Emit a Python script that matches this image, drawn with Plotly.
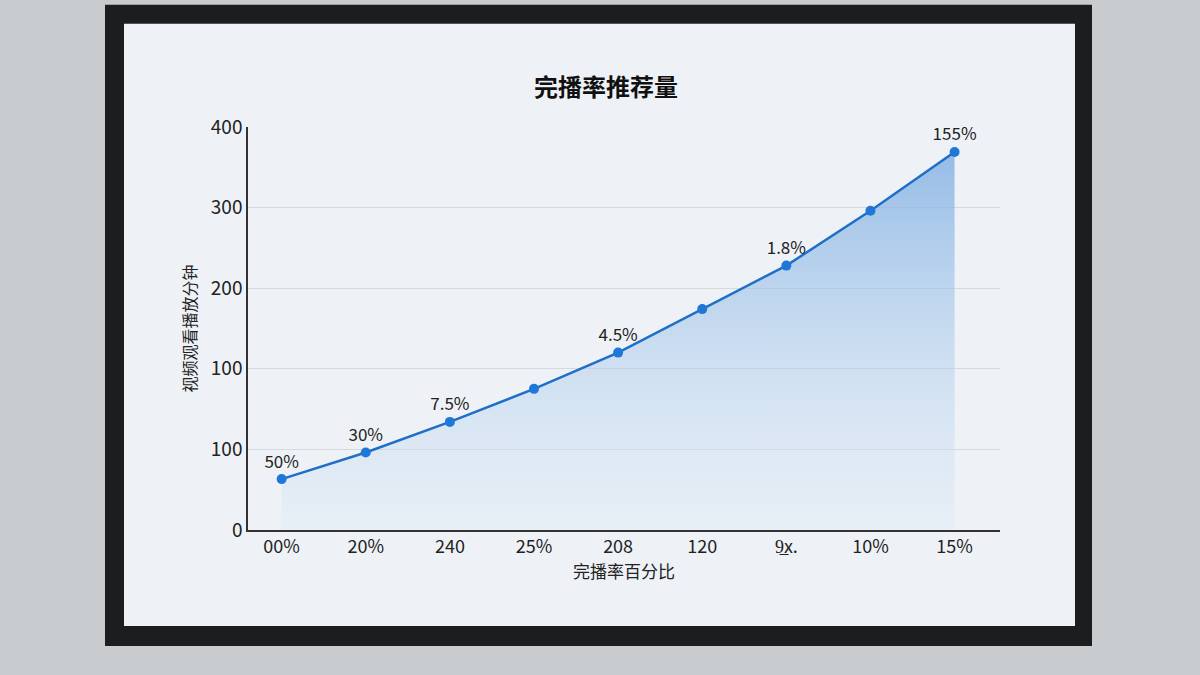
import plotly.graph_objects as go

x_labels = ["00%", "20%", "240", "25%", "208", "120", "9\u0332x.", "10%", "15%"]
values = [63, 96, 134, 175, 220, 274, 328, 396, 469]
point_labels = ["50%", "30%", "7.5%", "", "4.5%", "", "1.8%", "", "155%"]
y_tickvals = [0, 100, 200, 300, 400, 500]
y_ticktext = ["0", "100", "100", "200", "300", "400"]

font = "Noto Sans CJK SC"


def py(s):
    # screen pixel row -> paper fraction (the page is squeezed vertically when shot)
    return 1 - ((s - 20) / 0.958 + 5) / 675


fig = go.Figure()
fig.add_trace(go.Scatter(
    x=x_labels, y=values, mode="lines+markers+text",
    text=point_labels, textposition="top center",
    textfont=dict(size=17, color="#222", family=font),
    line=dict(color="#1f6fc8", width=2.5),
    marker=dict(size=10, color="#1f78d8"),
    fill="tozeroy",
    fillgradient=dict(type="vertical",
                      colorscale=[[0, "rgba(215,230,245,0.3)"], [1, "rgba(120,170,225,0.75)"]]),
    cliponaxis=False,
))

fig.update_layout(
    width=1200, height=675,
    margin=dict(l=0, r=0, t=0, b=0),
    paper_bgcolor="#c9ccce",
    plot_bgcolor="rgba(0,0,0,0)",
    showlegend=False,
    font=dict(family=font, color="#222"),
    shapes=[
        dict(type="rect", xref="paper", yref="paper", x0=105/1200, x1=1092/1200,
             y0=py(645), y1=py(5), fillcolor="#1b1d1f", line=dict(width=0), layer="below"),
        dict(type="rect", xref="paper", yref="paper", x0=124/1200, x1=1075/1200,
             y0=py(625), y1=py(24), fillcolor="#eef2f6", line=dict(width=0), layer="below"),
    ],
    annotations=[
        dict(text="<b>完播率推荐量</b>", xref="paper", yref="paper", x=606/1200, y=py(66),
             showarrow=False, font=dict(size=24, family=font, color="#111")),
    ],
    xaxis=dict(domain=[248/1200, 1000/1200], range=[-0.4, 8.54], showline=True,
               linecolor="#333", linewidth=1.5, showgrid=False, ticks="",
               tickfont=dict(size=18, family=font, color="#222"),
               title=dict(text="完播率百分比", font=dict(size=17), standoff=8)),
    yaxis=dict(domain=[py(529), py(127)], range=[0, 500], tickvals=y_tickvals,
               ticktext=y_ticktext, showline=True, linecolor="#333", linewidth=1.5,
               gridcolor="#d5d9dd", zeroline=False, ticks="",
               tickfont=dict(size=19, family=font, color="#222"),
               title=dict(text="视频观看播放分钟", font=dict(size=16), standoff=10)),
)

fig.write_html("out.html", config={"displayModeBar": False},
               post_script="document.body.style.margin='0';document.body.style.overflow='hidden';")
